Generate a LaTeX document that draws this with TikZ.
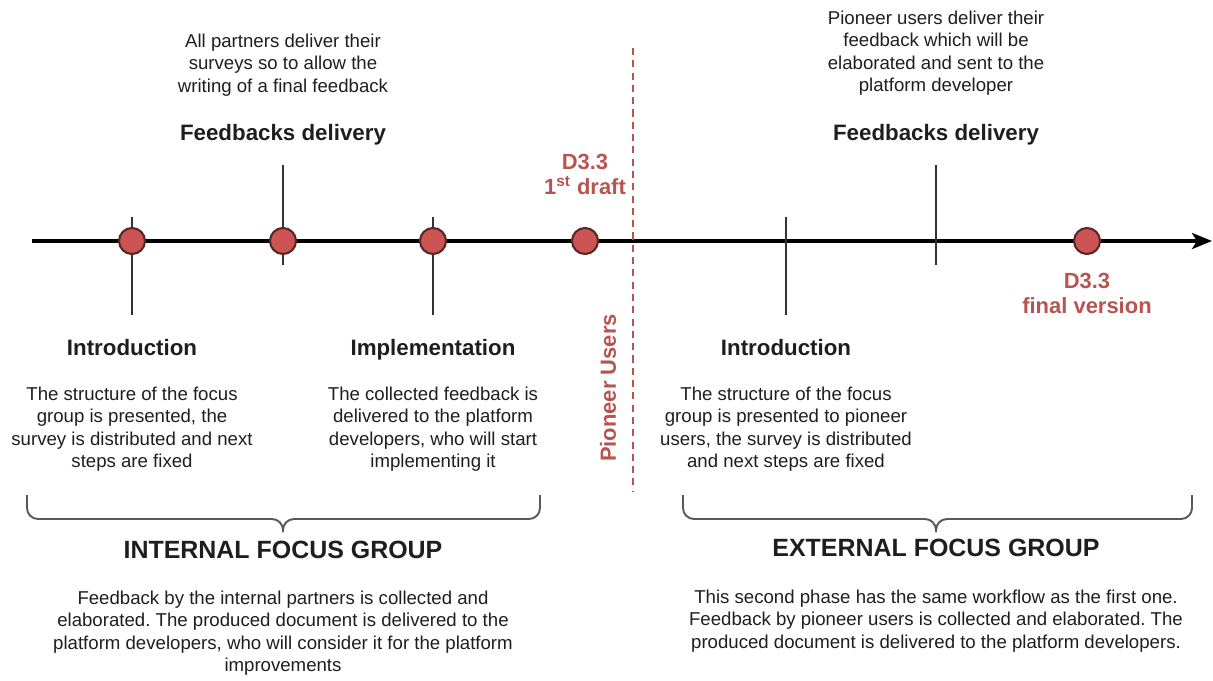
\documentclass[tikz,border=0pt]{standalone}
\usepackage{fontspec}
\setmainfont{Liberation Sans}
\usetikzlibrary{arrows.meta, positioning}
\frenchspacing
\definecolor{milered}{RGB}{184,84,80}
\definecolor{milefill}{RGB}{206,84,84}
\definecolor{mileline}{RGB}{88,40,40}
\definecolor{txtgray}{RGB}{30,30,30}
\tikzset{
  milestone/.style={
    circle,
    draw=mileline,
    fill=milefill,
    line width=1.2pt,
    minimum size=5.2mm,
    inner sep=0pt
  },
  phase/.style={
    font=\fontsize{12.7}{15}\selectfont\bfseries,
    text=txtgray,
    text depth=0.22em
  },
  desc/.style={
    align=center,
    font=\fontsize{10.6}{12.8}\selectfont,
    text=txtgray
  },
  deliv/.style={
    align=center,
    font=\fontsize{12.5}{14.2}\selectfont\bfseries,
    text=milered
  },
  group/.style={
    font=\fontsize{14.2}{17}\selectfont\bfseries,
    text=txtgray
  },
  tickline/.style={
    line width=1.1pt,
    draw=black!80
  },
  groupbrace/.style={
    draw=black!65,
    line width=1.1pt,
    rounded corners=2.2mm
  }
}

\begin{document}
\begin{tikzpicture}[x=0.02cm, y=-0.02cm]
  \useasboundingbox (0,0) rectangle (1213,680);

  % Axe du temps
  \coordinate (axstart) at (32,241);
  \coordinate (axend) at (1212,241);
  \draw[-{Stealth[length=4mm, width=3.2mm, inset=1mm]}, line width=2pt] (axstart) -- (axend);

  % Traits verticaux
  \coordinate (t1top) at (132,217);
  \coordinate (t1bot) at (132,315);
  \coordinate (t2top) at (283,165);
  \coordinate (t2bot) at (283,265);
  \coordinate (t3top) at (433,217);
  \coordinate (t3bot) at (433,315);
  \coordinate (t4top) at (786,217);
  \coordinate (t4bot) at (786,315);
  \coordinate (t5top) at (936,165);
  \coordinate (t5bot) at (936,265);
  \draw[tickline] (t1top) -- (t1bot);
  \draw[tickline] (t2top) -- (t2bot);
  \draw[tickline] (t3top) -- (t3bot);
  \draw[tickline] (t4top) -- (t4bot);
  \draw[tickline] (t5top) -- (t5bot);

  % Jalons
  \node[milestone] (m1) at (132,241) {};
  \node[milestone] (m2) at (283,241) {};
  \node[milestone] (m3) at (433,241) {};
  \node[milestone] (m4) at (585,241) {};
  \node[milestone] (m5) at (1087,241) {};

  % Separation pioneer users
  \coordinate (cuttop) at (633,48);
  \coordinate (cutbot) at (633,492);
  \draw[milered, line width=1.1pt, dash pattern=on 4pt off 3pt] (cuttop) -- (cutbot);
  \node[deliv, rotate=90] (pioneer) at (608,388) {Pioneer Users};

  % Livrables
  \node[deliv] (draft) at (585,174) {D3.3\\1\textsuperscript{st} draft};
  \node[deliv] (final) at (1087,293) {D3.3\\final version};

  % Phases internes
  \node[desc] (deliv1desc) at (283,65) {All partners deliver their\\surveys so to allow the\\writing of a final feedback};
  \node[phase] (deliv1) at (283,134) {Feedbacks delivery};
  \node[phase] (intro1) at (132,349) {Introduction};
  \node[desc] (intro1desc) at (132,429) {The structure of the focus\\group is presented, the\\survey is distributed and next\\steps are fixed};
  \node[phase] (impl) at (433,349) {Implementation};
  \node[desc] (impldesc) at (433,429) {The collected feedback is\\delivered to the platform\\developers, who will start\\implementing it};

  % Phases externes
  \node[desc] (deliv2desc) at (936,53) {Pioneer users deliver their\\feedback which will be\\elaborated and sent to the\\platform developer};
  \node[phase] (deliv2) at (936,134) {Feedbacks delivery};
  \node[phase] (intro2) at (786,349) {Introduction};
  \node[desc] (intro2desc) at (786,429) {The structure of the focus\\group is presented to pioneer\\users, the survey is distributed\\and next steps are fixed};

  % Accolades
  \coordinate (b1l) at (27,495);
  \coordinate (b1r) at (540,495);
  \coordinate (b1m) at (283,519);
  \coordinate (b1tip) at (283,532);
  \draw[groupbrace] (b1l) |- (b1m) -- (b1tip);
  \draw[groupbrace] (b1r) |- (b1m) -- (b1tip);
  \coordinate (b2l) at (683,495);
  \coordinate (b2r) at (1192,495);
  \coordinate (b2m) at (936,519);
  \coordinate (b2tip) at (936,532);
  \draw[groupbrace] (b2l) |- (b2m) -- (b2tip);
  \draw[groupbrace] (b2r) |- (b2m) -- (b2tip);

  % Groupes
  \node[group] (internal) at (283,550) {INTERNAL FOCUS GROUP};
  \node[desc] (internaldesc) at (283,633) {Feedback by the internal partners is collected and\\elaborated. The produced document is delivered to the\\platform developers, who will consider it for the platform\\improvements};
  \node[group] (external) at (936,548) {EXTERNAL FOCUS GROUP};
  \node[desc] (externaldesc) at (936,621) {This second phase has the same workflow as the first one.\\Feedback by pioneer users is collected and elaborated. The\\produced document is delivered to the platform developers.};
\end{tikzpicture}
\end{document}
